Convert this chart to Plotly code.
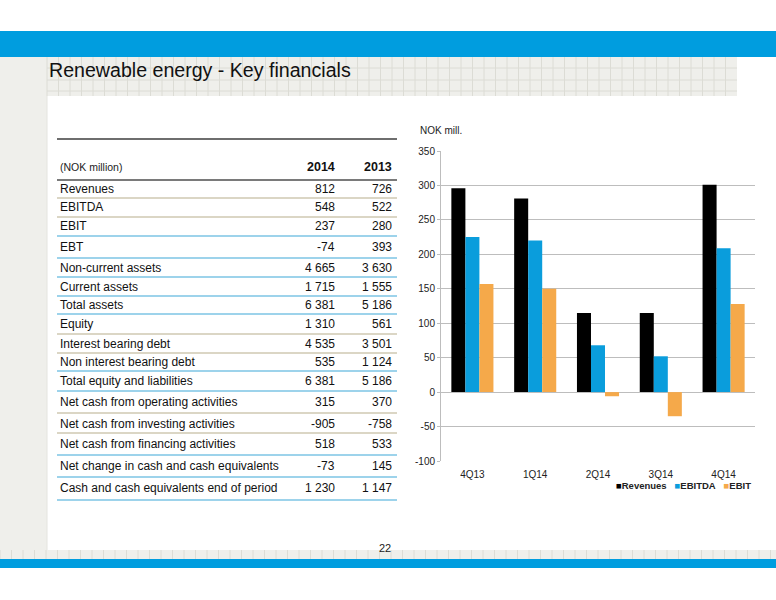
import plotly.graph_objects as go

# quarterly chart data (NOK mill.)
quarters = ["4Q13", "1Q14", "2Q14", "3Q14", "4Q14"]
revenues = [296, 281, 115, 115, 301]
ebitda = [225, 220, 68, 52, 209]
ebit = [157, 150, -6, -35, 128]
y_ticks = [-100, -50, 0, 50, 100, 150, 200, 250, 300, 350]

series_names = ["Revenues", "EBITDA", "EBIT"]
series_colors = ["#000000", "#0a9ddc", "#f5a94a"]

# key financials table
row_labels = [
    "Revenues", "EBITDA", "EBIT", "EBT", "Non-current assets", "Current assets",
    "Total assets", "Equity", "Interest bearing debt", "Non interest bearing debt",
    "Total equity and liabilities", "Net cash from operating activities",
    "Net cash from investing activities", "Net cash from financing activities",
    "Net change in cash and cash equivalents", "Cash and cash equivalents end of period",
]
values_2014 = [812, 548, 237, -74, 4665, 1715, 6381, 1310, 4535, 535, 6381, 315, -905, 518, -73, 1230]
values_2013 = [726, 522, 280, 393, 3630, 1555, 5186, 561, 3501, 1124, 5186, 370, -758, 533, 145, 1147]
year_labels = ["2014", "2013"]

W, H = 776, 600
BLUE = "#009ddf"
GREY_BG = "#efefeb"
GRID = "#dcdcd5"
TAN = "#cfc9b2"
LBLUE = "#7cc4e4"


def px(x):
    return x / W


def py(y):
    return 1 - y / H


def fmt(v):
    return f"{v:,}".replace(",", " ")


fig = go.Figure()
for name, vals, col in zip(series_names, [revenues, ebitda, ebit], series_colors):
    fig.add_trace(go.Bar(x=quarters, y=vals, name=name, marker_color=col,
                         marker_line_width=0, showlegend=False))

shapes = []
annotations = []

def rect(x0, y0, x1, y1, color):
    shapes.append(dict(type="rect", xref="paper", yref="paper", x0=px(x0), x1=px(x1),
                       y0=py(y1), y1=py(y0), fillcolor=color, line_width=0, layer="below"))

def hline(x0, x1, y, color, w=1):
    shapes.append(dict(type="line", xref="paper", yref="paper", x0=px(x0), x1=px(x1),
                       y0=py(y), y1=py(y), line=dict(color=color, width=w)))

def vline(x, y0, y1, color, w=1):
    shapes.append(dict(type="line", xref="paper", yref="paper", x0=px(x), x1=px(x),
                       y0=py(y0), y1=py(y1), line=dict(color=color, width=w), layer="below"))

# slide decoration
rect(0, 31, W, 57, BLUE)
rect(47, 57, 737, 96, GREY_BG)
rect(0, 57, 47, 550, GREY_BG)
rect(0, 550, W, 559, GREY_BG)
rect(0, 559, W, 568, BLUE)
x = 47
while x < 737:
    vline(x, 57, 96, GRID)
    x += 11.5
for yy in (68, 80, 91):
    hline(47, 737, yy, GRID)
x = 0
while x < W:
    vline(x, 550, 559, GRID)
    x += 11.5
vline(47, 96, 550, "#e4e4df")

annotations.append(dict(x=px(47), y=py(70), xref="paper", yref="paper", text="Renewable energy - Key financials",
                        showarrow=False, xanchor="left", yanchor="middle",
                        font=dict(family="Liberation Sans, Arial", size=19.6, color="#111111")))

# table
font_t = "Liberation Sans, Arial"
hline(57, 397, 139, "#6e6e6e", 2)
annotations.append(dict(x=px(58), y=py(167), xref="paper", yref="paper", text="(NOK million)",
                        showarrow=False, xanchor="left", yanchor="middle",
                        font=dict(family=font_t, size=10.5, color="#222")))
for lab, xr in zip(year_labels, [337, 394]):
    annotations.append(dict(x=px(xr), y=py(167), xref="paper", yref="paper", text="<b>%s</b>" % lab,
                            showarrow=False, xanchor="right", yanchor="middle",
                            font=dict(family=font_t, size=12.5, color="#111")))
hline(57, 397, 180, "#7a7a7a", 2)

row_y = [189, 207, 226, 247, 268, 287, 305, 324, 344, 362, 381, 402, 424, 444, 466, 488]
line_y = [198, 217, 236, 258, 277, 296, 314, 334, 353, 371, 391, 413, 433, 455, 477, 500]
line_c = [TAN, TAN, LBLUE, LBLUE, LBLUE, LBLUE, LBLUE, TAN, TAN, LBLUE, LBLUE, TAN, TAN, LBLUE, LBLUE, LBLUE]
for lab, v14, v13, ry, ly, lc in zip(row_labels, values_2014, values_2013, row_y, line_y, line_c):
    annotations.append(dict(x=px(58), y=py(ry), xref="paper", yref="paper", text=lab,
                            showarrow=False, xanchor="left", yanchor="middle",
                            font=dict(family=font_t, size=12, color="#111")))
    for v, xr in zip([v14, v13], [337, 394]):
        annotations.append(dict(x=px(xr), y=py(ry), xref="paper", yref="paper", text=fmt(v),
                                showarrow=False, xanchor="right", yanchor="middle",
                                font=dict(family=font_t, size=12, color="#111")))
    hline(57, 397, ly, lc, 1.6)

annotations.append(dict(x=px(393), y=py(548), xref="paper", yref="paper", text="22",
                        showarrow=False, xanchor="right", yanchor="middle",
                        font=dict(family=font_t, size=11, color="#222")))

# chart labels
annotations.append(dict(x=px(418), y=py(130), xref="paper", yref="paper", text="NOK mill.",
                        showarrow=False, xanchor="left", yanchor="middle",
                        font=dict(family=font_t, size=10, color="#222")))

chart_font = "Liberation Sans Narrow, Arial Narrow, Liberation Sans"
leg_text = "&nbsp;&nbsp;&nbsp;".join(
    "<span style='color:%s'>■</span><b>%s</b>" % (c, n) for n, c in zip(series_names, series_colors))
annotations.append(dict(x=px(753), y=py(485), xref="paper", yref="paper", text=leg_text,
                        showarrow=False, xanchor="right", yanchor="middle",
                        font=dict(family=chart_font, size=9.5, color="#222")))

fig.update_layout(
    width=W, height=H,
    margin=dict(l=0, r=0, t=0, b=0),
    paper_bgcolor="white", plot_bgcolor="white",
    barmode="group", bargap=0.33, bargroupgap=0,
    xaxis=dict(domain=[px(441), px(755)], anchor="y", showgrid=False, showline=False, automargin=False,
               ticks="", ticklabelstandoff=6,
               tickfont=dict(family=chart_font, size=10, color="#222"), fixedrange=True),
    yaxis=dict(domain=[py(461), py(151)], range=[-100, 350], anchor="x", automargin=False,
               tickvals=y_ticks, ticktext=[str(v) for v in y_ticks],
               showgrid=True, gridcolor="#bdbdbd", gridwidth=1, zeroline=False,
               showline=True, linecolor="#bdbdbd", ticks="outside", ticklen=3, tickcolor="#bdbdbd",
               tickfont=dict(family=chart_font, size=10, color="#222"), fixedrange=True),
    shapes=shapes,
    annotations=annotations,
    showlegend=False,
)

# drop the default page margin so the slide sits flush in the window
fig.write_html("out.html", post_script="document.body.style.margin='0';",
               config={"displayModeBar": False})
